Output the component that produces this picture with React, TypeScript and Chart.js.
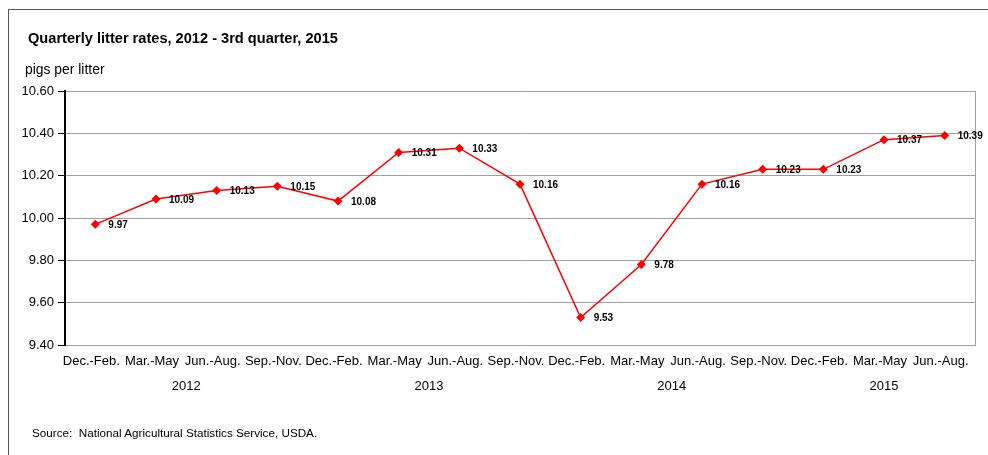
import React, { useEffect, useRef } from "react";
import { Chart, registerables } from "chart.js";

Chart.register(...registerables);

const quarters = [
  "Dec.-Feb.", "Mar.-May", "Jun.-Aug.", "Sep.-Nov.",
  "Dec.-Feb.", "Mar.-May", "Jun.-Aug.", "Sep.-Nov.",
  "Dec.-Feb.", "Mar.-May", "Jun.-Aug.", "Sep.-Nov.",
  "Dec.-Feb.", "Mar.-May", "Jun.-Aug.",
];
const yearOfQuarter = [
  "2012", "2012", "2012", "2012",
  "2013", "2013", "2013", "2013",
  "2014", "2014", "2014", "2014",
  "2015", "2015", "2015",
];
const pigsPerLitter = [
  9.97, 10.09, 10.13, 10.15,
  10.08, 10.31, 10.33, 10.16,
  9.53, 9.78, 10.16, 10.23,
  10.23, 10.37, 10.39,
];
const yTicks = [9.4, 9.6, 9.8, 10.0, 10.2, 10.4, 10.6];

const FONT = "'Liberation Sans', Arial, sans-serif";

const decorPlugin = {
  id: "decor",
  afterDraw(chart: any) {
    const { ctx, chartArea, scales } = chart;
    const x = scales.x;
    ctx.save();
    // right border of plot area
    ctx.strokeStyle = "#a0a0a0";
    ctx.lineWidth = 1;
    ctx.beginPath();
    ctx.moveTo(Math.round(chartArea.right) + 0.5, chartArea.top);
    ctx.lineTo(Math.round(chartArea.right) + 0.5, chartArea.bottom);
    ctx.stroke();
    // year labels
    ctx.fillStyle = "#000";
    ctx.font = `13px ${FONT}`;
    ctx.textAlign = "center";
    ctx.textBaseline = "middle";
    const groups: Record<string, number[]> = {};
    yearOfQuarter.forEach((y, i) => {
      (groups[y] = groups[y] || []).push(i);
    });
    Object.keys(groups).forEach((y) => {
      const idx = groups[y];
      const a = x.getPixelForValue(idx[0]);
      const b = x.getPixelForValue(idx[idx.length - 1]);
      ctx.fillText(y, (a + b) / 2, chartArea.bottom + 41);
    });
    // data labels
    const meta = chart.getDatasetMeta(0);
    ctx.font = `bold 10px ${FONT}`;
    ctx.textAlign = "left";
    meta.data.forEach((pt: any, i: number) => {
      ctx.fillText(pigsPerLitter[i].toFixed(2), pt.x + 13, pt.y + 1);
    });
    ctx.restore();
  },
};

export default function App() {
  const ref = useRef<HTMLCanvasElement>(null);
  useEffect(() => {
    document.body.style.margin = "0";
    const chart = new Chart(ref.current!, {
      type: "line",
      data: {
        labels: quarters,
        datasets: [
          {
            data: pigsPerLitter,
            borderColor: "#ff0000",
            backgroundColor: "#ff0000",
            borderWidth: 1.5,
            pointStyle: "rectRot",
            pointRadius: 4.5,
            pointBorderWidth: 0,
            tension: 0,
          },
        ],
      },
      options: {
        animation: false,
        responsive: false,
        layout: { padding: { left: 0, right: 13, top: 91, bottom: 0 } },
        plugins: {
          legend: { display: false },
          tooltip: { enabled: false },
          title: { display: false },
        },
        scales: {
          x: {
            offset: true,
            grid: { display: false, drawTicks: false },
            border: { display: true, color: "#a0a0a0", width: 1 },
            ticks: {
              color: "#000",
              font: { family: FONT, size: 13 },
              padding: 9,
              labelOffset: -4,
              maxRotation: 0,
              autoSkip: false,
            },
            afterFit(scale: any) {
              scale.height = 110;
            },
          },
          y: {
            min: 9.4,
            max: 10.6,
            afterBuildTicks(scale: any) {
              scale.ticks = yTicks.map((v) => ({ value: v }));
            },
            grid: {
              color: "#a0a0a0",
              tickColor: "#000",
              tickLength: 7,
            },
            border: { display: true, color: "#000", width: 2 },
            ticks: {
              color: "#000",
              font: { family: FONT, size: 13 },
              padding: 4,
              callback: (v: any) => Number(v).toFixed(2),
            },
            afterFit(scale: any) {
              scale.width = 65;
            },
          },
        },
      },
      plugins: [decorPlugin],
    });
    return () => chart.destroy();
  }, []);

  return (
    <div style={{ position: "relative", width: 988, height: 455, overflow: "hidden", fontFamily: FONT, color: "#000" }}>
      <div style={{ position: "absolute", left: 8, top: 9, width: 1100, height: 600, border: "1px solid #555", boxSizing: "border-box" }} />
      <canvas ref={ref} width={988} height={455} style={{ position: "absolute", left: 0, top: 0 }} />
      <div style={{ position: "absolute", left: 28, top: 29, fontSize: 14.6, fontWeight: "bold", whiteSpace: "nowrap", lineHeight: "18px" }}>
        Quarterly litter rates, 2012 - 3rd quarter, 2015
      </div>
      <div style={{ position: "absolute", left: 25, top: 61, fontSize: 13.9, whiteSpace: "nowrap", lineHeight: "16px" }}>
        pigs per litter
      </div>
      <div style={{ position: "absolute", left: 32, top: 426, fontSize: 11.7, whiteSpace: "nowrap", lineHeight: "14px" }}>
        Source:&nbsp; National Agricultural Statistics Service, USDA.
      </div>
    </div>
  );
}
